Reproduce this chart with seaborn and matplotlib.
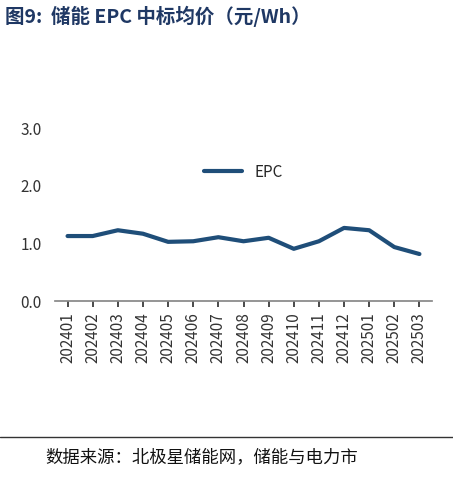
import matplotlib
matplotlib.use("Agg")
import matplotlib.pyplot as plt
import seaborn as sns
import pandas as pd

months = ["202401","202402","202403","202404","202405","202406","202407","202408",
          "202409","202410","202411","202412","202501","202502","202503"]
epc = [1.12,1.12,1.22,1.16,1.02,1.03,1.10,1.03,1.09,0.90,1.03,1.26,1.22,0.93,0.81]

sns.set_theme(style="white")
plt.rcParams['font.family'] = ['Noto Sans CJK SC', 'DejaVu Sans']

df = pd.DataFrame({"month": months, "EPC": epc})
fig = plt.figure(figsize=(4.53, 4.81), dpi=100)
ax = fig.add_axes([55/453, 1-302/481, (432-55)/453, (302-128)/481])
sns.lineplot(data=df, x="month", y="EPC", ax=ax, color="#1F4E79", linewidth=3, label="EPC", sort=False)
ax.set_ylim(0, 3.0)
ax.set_yticks([0, 1, 2, 3])
ax.set_yticklabels(["0.0", "1.0", "2.0", "3.0"], fontsize=11, color="#333333")
ax.set_xlim(-0.5, len(months)-0.5)
ax.tick_params(axis='x', labelrotation=90, labelsize=11, colors="#333333", length=4, direction='out', bottom=True)
ax.set_xlabel(""); ax.set_ylabel("")
for s in ["top", "right", "left"]:
    ax.spines[s].set_visible(False)
ax.spines["bottom"].set_color("#888888")
leg = ax.legend(loc="upper center", bbox_to_anchor=(0.5, 0.87), frameon=False, fontsize=11, handlelength=2.5)
fig.text(0.01, 0.965, "图9:  储能 EPC 中标均价（元/Wh）", fontsize=14, fontweight="bold", color="#1F3864", va="center")
fig.add_artist(plt.Line2D([0.0, 1.0], [1-438/481, 1-438/481], color="#333333", linewidth=1))
fig.text(45/453, 1-457/481, "数据来源：北极星储能网，储能与电力市", fontsize=12.5, ha="left", va="center", color="#111111")
fig.savefig("out.png", dpi=100)
